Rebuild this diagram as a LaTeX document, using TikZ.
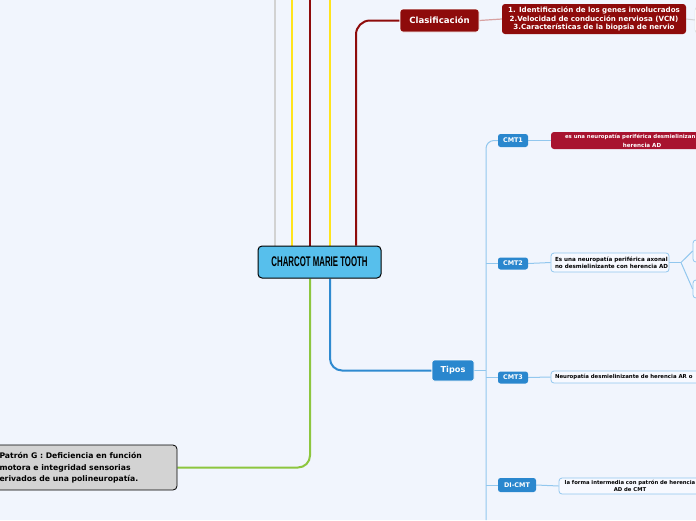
\documentclass[tikz,border=0pt]{standalone}
\usepackage{fontspec}
\usepackage{graphicx}
\setmainfont{DejaVu Sans}
\newfontfamily\centralfont{Liberation Sans}
\pgfdeclarelayer{background}
\pgfsetlayers{background,main}
\definecolor{bg}{HTML}{F1F5FD}
\definecolor{lgray}{HTML}{D2D2D2}
\definecolor{yel}{HTML}{FFE41C}
\definecolor{dred}{HTML}{8E0B0B}
\definecolor{cblue}{HTML}{57BFEC}
\definecolor{grn}{HTML}{8DC63F}
\definecolor{mblue}{HTML}{2F8AD0}
\definecolor{lblue}{HTML}{92C7EE}
\definecolor{tblue}{HTML}{2A87CE}
\definecolor{pinkl}{HTML}{D8A2A2}
\definecolor{crim}{HTML}{A8132F}
\definecolor{boxg}{HTML}{D3D3D3}
\definecolor{paleb}{HTML}{F7F9FF}
\tikzset{
  mainline/.style={line width=2pt},
  subline/.style={line width=1pt, lblue},
  redbox/.style={rectangle, rounded corners=3pt, fill=dred, inner sep=0pt, text=white},
  bluebox/.style={rectangle, rounded corners=2.5pt, fill=tblue, inner sep=0pt, text=white},
  descbox/.style={rectangle, rounded corners=3pt, fill=paleb, draw=lblue, line width=0.8pt, inner sep=0pt},
  txt/.style={inner sep=0pt, outer sep=0pt},
}
\begin{document}
\begin{tikzpicture}[x=1pt,y=-1pt]
\useasboundingbox (0,0) rectangle (696,520);
\begin{scope}
\clip (0,0) rectangle (696,520);
% central
\node[rectangle, rounded corners=4pt, fill=cblue, draw=black, line width=1pt, minimum width=123pt, minimum height=32pt, inner sep=0pt] (central) at (319.5,262)
  {\scalebox{0.56}[1]{\centralfont\bfseries\fontsize{14}{14}\selectfont CHARCOT MARIE TOOTH}};
% Clasificacion
\node[redbox, minimum width=79pt, minimum height=23pt, draw=white, line width=0.6pt, font=\bfseries\fontsize{8.6}{10}\selectfont] (clas) at (439.5,20.5) {Clasificación};
\node[redbox, minimum width=184pt, minimum height=30pt, align=center, font=\bfseries\fontsize{7.1}{8.3}\selectfont] (cdesc) at (594,19)
  {1. Identificación de los genes involucrados\\2.Velocidad de conducción nerviosa (VCN)\\3.Características de la biopsia de nervio};
\node[rectangle, rounded corners=3pt, draw=lgray, fill=white, minimum width=40pt, minimum height=26pt] (far) at (715,20) {};
% Tipos
\node[bluebox, minimum width=42pt, minimum height=21pt, draw=white, line width=0.6pt, font=\bfseries\fontsize{8.2}{10}\selectfont] (tipos) at (453,370.5) {Tipos};
\node[bluebox, minimum width=30pt, minimum height=13pt, font=\bfseries\fontsize{6.4}{8}\selectfont] (cmt1) at (513,140.5) {CMT1};
\node[bluebox, minimum width=30pt, minimum height=12pt, font=\bfseries\fontsize{6.4}{8}\selectfont] (cmt2) at (513,263.5) {CMT2};
\node[bluebox, minimum width=30pt, minimum height=12pt, font=\bfseries\fontsize{6.4}{8}\selectfont] (cmt3) at (513,377.5) {CMT3};
\node[bluebox, minimum width=38pt, minimum height=14pt, font=\bfseries\fontsize{6.4}{8}\selectfont] (dicmt) at (517,485) {DI-CMT};
% descriptions
\node[rectangle, rounded corners=3pt, fill=crim, minimum width=182pt, minimum height=17pt, inner sep=0pt] (d1) at (642,140.5) {};
\node[txt, anchor=west, text=white, font=\bfseries\fontsize{5.4}{6.5}\selectfont] (d1a) at (565,137.3) {es una neuropatía periférica desmielinizan};
\node[txt, text=white, font=\bfseries\fontsize{5.6}{6.5}\selectfont] (d1b) at (642,145) {herencia AD};
\node[descbox, minimum width=118pt, minimum height=19pt] (d2) at (610,262.5) {};
\node[txt, anchor=west, align=left, font=\bfseries\fontsize{5.6}{6.2}\selectfont] (d2t) at (555,262.8) {Es una neuropatía periférica axonal\\no desmielinizante con herencia AD};
\node[descbox, minimum width=60pt, minimum height=22pt] (r1) at (723,251) {};
\node[descbox, minimum width=60pt, minimum height=18pt] (r2) at (723,289) {};
\node[descbox, minimum width=190pt, minimum height=12pt] (d3) at (646,377) {};
\node[txt, anchor=west, font=\bfseries\fontsize{5.4}{6.5}\selectfont] (d3t) at (555,377.3) {Neuropatía desmielinizante de herencia AR o};
\node[descbox, minimum width=142pt, minimum height=16pt] (d4) at (630,486) {};
\node[txt, align=center, font=\bfseries\fontsize{5.3}{7}\selectfont] (d4t) at (630,485.8) {la forma intermedia con patrón de herencia\\AD de CMT};
% patron G
\node[rectangle, rounded corners=4pt, fill=boxg, draw=black, line width=0.8pt, minimum width=200pt, minimum height=45pt, inner sep=0pt] (pat) at (77,467.5) {};
\node[txt, anchor=west, align=left, font=\bfseries\fontsize{7.7}{11.5}\selectfont] (patt) at (-0.5,467.8) {Patrón G : Deficiencia en función\\motora e integridad sensorias\\erivados de una polineuropatía.};
% coordinates
\coordinate (gy) at (275,0);
\coordinate (y1) at (292,0);
\coordinate (rr) at (310,0);
\coordinate (y2) at (330,0);
\coordinate (rc) at (356,20.5);
\coordinate (bc) at (330,370.5);
\coordinate (gc) at (310,467.5);
\coordinate (vt) at (486,140.5);
\coordinate (vb) at (486,520);
\coordinate (fk) at (681,262.5);
\begin{pgfonlayer}{background}
\fill[bg] (0,0) rectangle (696,520);
\draw[mainline, lgray] (gy) -- (gy |- central.north);
\draw[mainline, yel] (y1) -- (y1 |- central.north);
\draw[mainline, dred] (rr) -- (rr |- central.north);
\draw[mainline, yel] (y2) -- (y2 |- central.north);
\draw[mainline, dred, rounded corners=14pt] (rc |- central.north) -- (rc) -- (clas.west);
\draw[line width=1.2pt, pinkl] (clas.east) -- (cdesc.west);
\draw[line width=1pt, lgray] (cdesc.east) -- (far.west);
\draw[mainline, mblue, rounded corners=12pt] (bc |- central.south) -- (bc) -- (tipos.west);
\draw[mainline, grn, rounded corners=12pt] (gc |- central.south) -- (gc) -- (pat.east);
\draw[subline, rounded corners=8pt] (vb) -- (vt) -- (cmt1.west);
\draw[subline, line width=1.5pt] (tipos.east) -- (tipos.east -| vb);
\draw[subline, rounded corners=4pt] (cmt2.west -| vb) -- (cmt2.west);
\draw[subline] (cmt3.west -| vb) -- (cmt3.west);
\draw[subline] (dicmt.west -| vb) -- (dicmt.west);
\draw[subline] (cmt1.east) -- (d1.west);
\draw[subline] (cmt2.east) -- (d2.west);
\draw[subline] (cmt3.east) -- (d3.west);
\draw[subline] (dicmt.east) -- (d4.west);
\draw[subline] (d2.east) -- (fk);
\draw[subline] (fk) -- (r1.west);
\draw[subline] (fk) -- (r2.west);
\end{pgfonlayer}
\end{scope}
\end{tikzpicture}
\end{document}
